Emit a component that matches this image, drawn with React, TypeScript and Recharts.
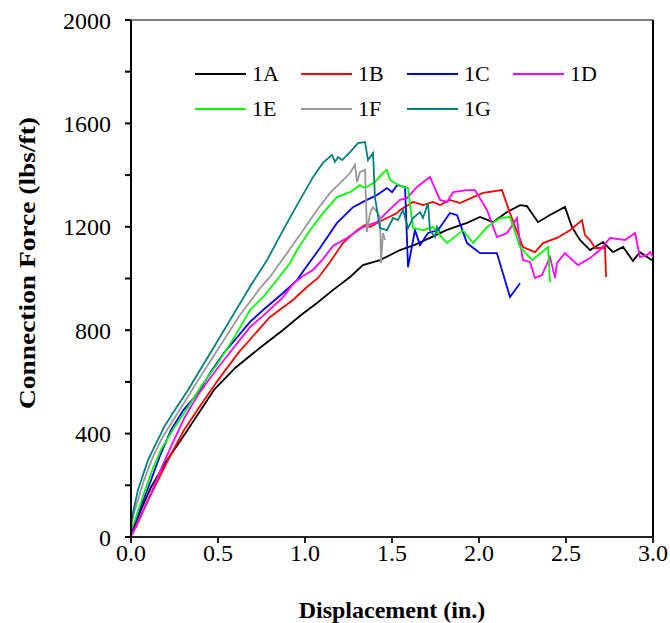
import { LineChart, Line, XAxis, YAxis, Legend, ReferenceLine } from 'recharts';

// [displacement (in.), connection force (lbs/ft)]
const s1A: [number, number][] = [
  [0, 10], [0.019, 40], [0.06, 110], [0.115, 193], [0.2, 290], [0.287, 375], [0.38, 470], [0.477, 569],
  [0.6, 655], [0.747, 735], [0.874, 801], [0.97, 855], [1.069, 905], [1.16, 955], [1.259, 1006],
  [1.333, 1052], [1.431, 1071], [1.546, 1110], [1.63, 1130], [1.718, 1157], [1.816, 1188], [1.931, 1215],
  [2.006, 1238], [2.08, 1218], [2.161, 1257], [2.236, 1284], [2.276, 1280], [2.339, 1218], [2.408, 1246],
  [2.494, 1277], [2.534, 1199], [2.58, 1149], [2.638, 1110], [2.713, 1141], [2.77, 1102], [2.828, 1122],
  [2.885, 1068], [2.925, 1102], [2.994, 1071],
];
const s1B: [number, number][] = [
  [0, 15], [0.029, 39], [0.09, 130], [0.155, 220], [0.23, 320], [0.305, 414], [0.4, 510], [0.5, 607],
  [0.62, 715], [0.747, 812], [0.799, 851], [0.931, 917], [1.011, 967], [1.075, 1002], [1.144, 1064],
  [1.218, 1137], [1.299, 1187], [1.345, 1207], [1.374, 1199], [1.414, 1215], [1.471, 1234], [1.529, 1253],
  [1.546, 1265], [1.621, 1296], [1.678, 1284], [1.736, 1296], [1.776, 1284], [1.833, 1304], [1.891, 1292],
  [1.966, 1315], [2.023, 1331], [2.132, 1342], [2.178, 1253], [2.253, 1122], [2.322, 1102], [2.368, 1137],
  [2.448, 1157], [2.523, 1187], [2.592, 1226], [2.609, 1168], [2.638, 1149], [2.667, 1118], [2.695, 1118],
  [2.724, 1122], [2.73, 1006],
];
const s1C: [number, number][] = [
  [0, 20], [0.029, 66], [0.07, 140], [0.115, 220], [0.17, 320], [0.23, 414], [0.3, 490], [0.385, 557],
  [0.46, 640], [0.534, 712], [0.684, 832], [0.759, 878], [0.874, 944], [0.954, 994], [1.011, 1048],
  [1.086, 1118], [1.184, 1215], [1.276, 1276], [1.356, 1304], [1.414, 1323], [1.471, 1350], [1.5, 1334],
  [1.529, 1361], [1.575, 1354], [1.592, 1044], [1.632, 1187], [1.661, 1129], [1.707, 1176], [1.764, 1187],
  [1.833, 1253], [1.874, 1245], [1.931, 1137], [2.006, 1098], [2.103, 1098], [2.178, 928], [2.236, 982],
];
const s1D: [number, number][] = [
  [0, 5], [0.011, 15], [0.06, 90], [0.115, 170], [0.18, 275], [0.247, 375], [0.31, 465], [0.385, 549],
  [0.46, 620], [0.534, 685], [0.684, 812], [0.782, 870], [0.874, 928], [0.931, 979], [0.989, 1010],
  [1.046, 1033], [1.103, 1075], [1.161, 1126], [1.241, 1157], [1.333, 1199], [1.414, 1218], [1.471, 1257],
  [1.546, 1304], [1.586, 1311], [1.644, 1354], [1.718, 1393], [1.776, 1304], [1.816, 1296], [1.851, 1334],
  [1.931, 1342], [1.977, 1342], [2.046, 1265], [2.103, 1160], [2.161, 1176], [2.218, 1234], [2.236, 1137],
  [2.253, 1071], [2.293, 1064], [2.322, 1002], [2.362, 1013], [2.408, 1083], [2.437, 1002], [2.448, 1060],
  [2.494, 1098], [2.569, 1052], [2.638, 1079], [2.695, 1110], [2.753, 1157], [2.839, 1149], [2.897, 1176],
  [2.925, 1083], [2.966, 1091], [2.983, 1102], [3.0, 1083],
];
const s1E: [number, number][] = [
  [0, 30], [0.017, 54], [0.075, 170], [0.12, 255], [0.172, 337], [0.25, 425], [0.328, 503], [0.41, 590],
  [0.5, 673], [0.6, 780], [0.684, 878], [0.759, 928], [0.839, 994], [0.914, 1060], [0.954, 1110],
  [1.029, 1187], [1.103, 1253], [1.184, 1315], [1.259, 1334], [1.316, 1361], [1.345, 1350], [1.402, 1373],
  [1.448, 1408], [1.471, 1420], [1.489, 1381], [1.517, 1369], [1.563, 1354], [1.592, 1350], [1.621, 1195],
  [1.678, 1187], [1.736, 1199], [1.816, 1137], [1.908, 1187], [1.966, 1137], [2.046, 1199], [2.121, 1234],
  [2.178, 1238], [2.236, 1122], [2.305, 1071], [2.397, 1122], [2.408, 986],
];
const s1F: [number, number][] = [
  [0, 40], [0.017, 93], [0.075, 220], [0.12, 300], [0.172, 375], [0.24, 450], [0.305, 518], [0.38, 600],
  [0.46, 685], [0.626, 859], [0.747, 967], [0.799, 1006], [0.897, 1099], [0.989, 1187], [1.069, 1265],
  [1.144, 1331], [1.201, 1369], [1.259, 1408], [1.287, 1439], [1.299, 1373], [1.316, 1412], [1.345, 1420],
  [1.356, 1180], [1.374, 1253], [1.391, 1276], [1.414, 1257], [1.431, 1238], [1.437, 1060], [1.448, 1176],
  [1.46, 1149],
];
const s1G: [number, number][] = [
  [0, 50], [0.011, 93], [0.04, 182], [0.098, 298], [0.19, 425], [0.26, 500], [0.328, 569], [0.4, 650],
  [0.477, 735], [0.569, 839], [0.69, 975], [0.782, 1071], [0.874, 1187], [0.971, 1304], [1.046, 1392],
  [1.103, 1447], [1.155, 1478], [1.172, 1451], [1.19, 1470], [1.213, 1458], [1.259, 1489], [1.305, 1524],
  [1.345, 1528], [1.362, 1458], [1.391, 1485], [1.402, 1315], [1.431, 1195], [1.471, 1187], [1.506, 1234],
  [1.534, 1226], [1.563, 1265], [1.592, 1195], [1.621, 1234], [1.661, 1257], [1.678, 1234], [1.707, 1292],
  [1.718, 1187], [1.747, 1160], [1.759, 1199], [1.776, 1180],
];

const seriesNames = ['1A', '1B', '1C', '1D', '1E', '1F', '1G'];
const seriesColors = ['#000000', '#ff0000', '#0000ff', '#ff00ff', '#00ff00', '#999999', '#008080'];
const seriesData = [s1A, s1B, s1C, s1D, s1E, s1F, s1G];

const xTicks = [0, 0.5, 1, 1.5, 2, 2.5, 3];
const yTicks = [0, 200, 400, 600, 800, 1000, 1200, 1400, 1600, 1800, 2000];

const FONT = '"Liberation Serif", "Times New Roman", serif';

function LegendBox({ payload }: any) {
  return (
    <div style={{ display: 'flex', flexWrap: 'wrap', width: 424, fontFamily: FONT, fontSize: 22, color: '#000' }}>
      {(payload || []).map((p: any) => (
        <div key={p.value} style={{ width: 106, height: 35, display: 'flex', alignItems: 'center' }}>
          <div style={{ width: 51, height: 2, background: p.color, marginRight: 6 }} />
          <span>{p.value}</span>
        </div>
      ))}
    </div>
  );
}

export default function App() {
  const lines = seriesData.map(pts => pts.map(([x, y]) => ({ x, y })));
  return (
    <div style={{ position: 'absolute', left: 0, top: 0, background: '#fff' }}>
      <LineChart width={670} height={623} margin={{ top: 20, right: 17, bottom: 0, left: 0 }}>
        <XAxis
          dataKey="x"
          type="number"
          domain={[0, 3]}
          ticks={xTicks}
          tickFormatter={(v: number) => v.toFixed(1)}
          height={86}
          tickSize={6}
          tickMargin={1}
          stroke="#222"
          strokeWidth={2}
          tick={{ fill: '#000', fontSize: 24, fontFamily: FONT }}
          label={{
            value: 'Displacement (in.)',
            position: 'insideBottom',
            offset: 5,
            style: { fill: '#000', fontSize: 24, fontWeight: 700, fontFamily: FONT },
          }}
        />
        <YAxis
          type="number"
          domain={[0, 2000]}
          ticks={yTicks}
          interval={0}
          tickFormatter={(v: number) => (v % 400 === 0 ? String(v) : '')}
          width={131}
          tickSize={6}
          tickMargin={14}
          stroke="#000"
          strokeWidth={2}
          tick={{ fill: '#000', fontSize: 24, fontFamily: FONT }}
          label={{
            content: () => (
              <text
                x={27}
                y={263}
                transform="rotate(-90 27 263)"
                textAnchor="middle"
                dominantBaseline="central"
                textLength={292}
                lengthAdjust="spacingAndGlyphs"
                style={{ fill: '#000', fontSize: 24, fontWeight: 700, fontFamily: FONT }}
              >
                Connection Force (lbs/ft)
              </text>
            ),
          }}
        />
        <ReferenceLine y={2000} stroke="#555" strokeWidth={1.5} />
        <ReferenceLine x={3} stroke="#000" strokeWidth={2} />
        <Legend
          layout="vertical"
          verticalAlign="middle"
          align="center"
          content={<LegendBox />}
          wrapperStyle={{ position: 'absolute', top: 56, left: 195, width: 430, height: 70 }}
        />
        {lines.map((d, i) => (
          <Line
            key={seriesNames[i]}
            name={seriesNames[i]}
            data={d}
            dataKey="y"
            type="linear"
            stroke={seriesColors[i]}
            strokeWidth={1.8}
            dot={false}
            activeDot={false}
            isAnimationActive={false}
          />
        ))}
      </LineChart>
    </div>
  );
}
